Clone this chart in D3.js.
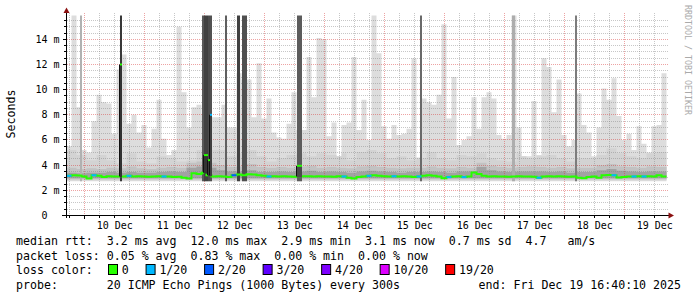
<!DOCTYPE html>
<html>
<head>
<meta charset="utf-8">
<script src="https://cdn.jsdelivr.net/npm/d3@7"></script>
<style>
body { margin: 0; background: #fff; }
text { font-family: "DejaVu Sans Mono", monospace; white-space: pre; }
</style>
</head>
<body>
<script>
// time range of the graph (10 days up to the end stamp)
const endTime = Date.UTC(2025, 11, 19, 16, 40, 10)
const startTime = endTime - 10 * 864e5
const binHours = 2   // smokeMax, median, lossCount
const tierHours = 4  // smokeUpper, smokeCore, smokeDense

// highest ping per 2h bin (ms)
const smokeMax = [
	5.5, 15.9, 8.6, 5.2, 5.0, 7.5, 9.6, 9.0, 8.9, 6.5,
	11.6, 12.8, 7.3, 8.0, 6.6, 7.2, 5.4, 6.9, 9.2, 6.1,
	4.8, 5.2, 15.0, 9.8, 7.0, 8.6, 8.8, 8.0, 8.0, 7.8,
	7.8, 8.8, 7.0, 7.0, 11.3, 10.8, 10.8, 7.8, 12.1, 7.7,
	9.3, 6.6, 6.2, 6.1, 7.3, 9.8, 6.8, 6.8, 12.6, 9.4,
	14.1, 14.0, 6.3, 7.4, 4.7, 7.2, 7.4, 12.6, 6.8, 9.2,
	6.0, 15.9, 12.9, 7.1, 6.1, 7.2, 6.4, 6.5, 6.9, 12.5,
	4.6, 9.3, 9.0, 8.8, 9.6, 15.2, 7.7, 11.0, 5.6, 6.0,
	6.3, 9.4, 6.9, 9.4, 9.8, 9.3, 6.4, 6.1, 6.4, 15.9,
	7.0, 4.7, 4.7, 9.1, 4.8, 12.5, 11.8, 8.2, 10.8, 6.4,
	5.5, 6.0, 9.7, 7.2, 6.6, 4.7, 7.0, 10.1, 9.2, 10.9,
	7.9, 6.0, 6.5, 5.2, 7.1, 5.7, 5.0, 7.1, 7.2, 11.3
]

// upper smoke bands per 4h bin (ms)
const smokeUpper = [
	5.2, 4.8, 4.4, 4.8, 4.4, 4.15, 4.95, 4.3, 4.15, 4.7,
	4.55, 4.3, 4.4, 5.2, 5.2, 5.2, 4.7, 4.95, 5.2, 4.7,
	4.3, 4.55, 4.8, 4.95, 4.7, 4.95, 4.8, 4.95, 4.4, 5.05,
	5.2, 4.95, 4.55, 4.7, 4.4, 4.55, 5.05, 4.55, 4.4, 4.8,
	4.7, 4.95, 4.55, 4.4, 4.3, 4.95, 4.55, 4.7, 4.8, 4.55,
	4.3, 4.55, 4.55, 4.8, 5.35, 4.95, 4.7, 4.55, 4.95, 5.05
]
const smokeCore = [
	3.8, 3.7, 3.75, 3.7, 3.8, 3.75, 3.9, 3.75, 3.7, 3.8,
	3.85, 3.8, 4.2, 4.3, 4.2, 4.0, 3.85, 3.9, 4.1, 3.85,
	3.8, 3.85, 3.8, 3.9, 3.95, 3.8, 3.85, 3.8, 3.75, 3.9,
	3.95, 3.85, 3.8, 3.75, 3.8, 3.8, 3.9, 3.8, 3.75, 3.85,
	3.8, 4.2, 3.95, 3.85, 3.8, 3.85, 3.9, 3.85, 3.8, 3.85,
	3.75, 3.8, 3.8, 4.0, 4.1, 3.9, 3.85, 3.8, 3.9, 3.85
]
const smokeDense = [
	3.4, 3.35, 3.4, 3.4, 3.45, 3.4, 3.45, 3.4, 3.4, 3.45,
	3.5, 3.45, 3.8, 3.9, 3.8, 3.6, 3.5, 3.5, 3.6, 3.45,
	3.45, 3.5, 3.45, 3.5, 3.55, 3.45, 3.5, 3.45, 3.4, 3.5,
	3.55, 3.5, 3.45, 3.4, 3.45, 3.45, 3.5, 3.45, 3.4, 3.5,
	3.5, 3.85, 3.6, 3.5, 3.45, 3.5, 3.5, 3.5, 3.45, 3.5,
	3.4, 3.45, 3.45, 3.6, 3.7, 3.55, 3.5, 3.45, 3.5, 3.5
]
// lowest value of each smoke band, lightest first (ms)
const smokeFloor = [2.72, 2.8, 2.88, 2.97]

// median rtt per 2h bin (ms)
const median = [
	3.15, 3.2, 3.18, 3.1, 2.95, 3.2, 3.15, 3.05, 3.12, 3.1,
	3.1, 3.1, 3.15, 3.1, 3.12, 3.1, 3.08, 3.1, 3.12, 3.1,
	3.1, 3.05, 3.08, 3.0, 2.95, 3.35, 3.3, 3.4, 3.2, 3.1,
	3.12, 3.1, 3.05, 3.2, 3.25, 3.2, 3.28, 3.25, 3.2, 3.15,
	3.1, 3.12, 3.1, 3.12, 3.1, 3.08, 3.1, 3.12, 3.12, 3.1,
	3.12, 3.1, 3.1, 3.08, 3.12, 3.1, 3.0, 2.95, 3.05, 3.1,
	3.15, 3.2, 3.15, 3.12, 3.1, 3.12, 3.1, 3.12, 3.1, 3.05,
	3.1, 3.15, 3.2, 3.15, 3.1, 2.97, 3.05, 3.1, 3.12, 3.05,
	3.1, 3.42, 3.3, 3.15, 3.1, 3.12, 3.1, 3.1, 3.08, 3.1,
	3.12, 3.1, 3.1, 3.08, 3.0, 3.1, 3.12, 3.1, 3.12, 3.1,
	3.08, 3.1, 3.0, 2.97, 3.05, 3.1, 3.0, 3.2, 3.22, 3.2,
	3.02, 3.05, 3.1, 3.1, 3.12, 3.1, 3.12, 3.1, 3.2, 3.1
]
// lost pings out of 20 per 2h bin
const lossCount = [
	1, 0, 0, 0, 0, 1, 0, 0, 0, 0,
	0, 0, 1, 0, 0, 0, 0, 0, 0, 1,
	0, 0, 0, 0, 0, 0, 0, 0, 0, 0,
	0, 0, 0, 2, 0, 0, 0, 0, 0, 0,
	1, 0, 0, 0, 0, 0, 0, 0, 0, 0,
	0, 0, 0, 0, 0, 1, 0, 0, 0, 0,
	1, 0, 0, 0, 0, 1, 0, 0, 0, 0,
	1, 0, 0, 0, 0, 0, 1, 0, 0, 1,
	0, 0, 0, 0, 0, 0, 0, 0, 0, 0,
	0, 0, 0, 0, 1, 0, 0, 0, 0, 0,
	0, 0, 0, 0, 0, 0, 0, 0, 0, 1,
	0, 0, 0, 1, 0, 1, 0, 0, 0, 0
]

// short bursts where most pings went off the scale
const spikeStart = [
	"2025-12-09T22:04Z", "2025-12-10T14:04Z", "2025-12-11T22:52Z", "2025-12-11T23:40Z",
	"2025-12-12T01:16Z", "2025-12-12T02:04Z", "2025-12-12T08:04Z", "2025-12-12T12:52Z",
	"2025-12-12T14:52Z", "2025-12-13T12:52Z", "2025-12-15T14:04Z", "2025-12-17T02:52Z",
	"2025-12-18T04:04Z"
]
const spikeMinutes = [48, 48, 48, 96, 48, 48, 48, 72, 120, 120, 48, 72, 48]
const spikeDensity = [0.26, 0.97, 0.78, 0.92, 0.85, 0.82, 0.74, 0.92, 0.83, 0.76, 0.68, 0.28, 0.57]
const spikeMedian = [3.15, 12.0, 3.5, 4.8, 4.4, 8.0, 3.1, 3.25, 3.25, 3.95, 3.1, 3.1, 3.1]
const spikeLoss = [0, 0, 0, 0, 0, 1, 0, 0, 0, 0, 0, 0, 0]

// legend
const lossLevels = ["0", "1/20", "2/20", "3/20", "4/20", "10/20", "19/20"]
const lossSteps = [0, 1, 2, 3, 4, 10, 19]
const lossColors = ["#26ff00", "#00b8ff", "#0059ff", "#5e00ff", "#7e00ff", "#dd00ff", "#ff0000"]
const rttSummary = ["3.2 ms avg", "12.0 ms max", "2.9 ms min", "3.1 ms now", "0.7 ms sd", "4.7   am/s"]
const lossSummary = ["0.05 % avg", "0.83 % max", "0.00 % min", "0.00 % now"]
const probeText = "20 ICMP Echo Pings (1000 Bytes) every 300s"
const yTickValues = [0, 2, 4, 6, 8, 10, 12, 14]

const svg = d3.select("body").append("svg")
	.attr("width", 697)
	.attr("height", 297)

const x = d3.scaleUtc()
	.domain([startTime, endTime])
	.range([66.5, 666.5])
const y = d3.scaleLinear()
	.domain([0, 15.894])
	.range([215.5, 15.5])
const snap = v => Math.floor(v) + 0.5
const lossColor = n => {
	let i = 0
	lossSteps.forEach((s, k) => { if (n >= s) i = k })
	return lossColors[i]
}

// step data at 2h resolution
const binT = i => startTime + i * binHours * 36e5
const stepData = fn => {
	const pts = smokeMax.map((_, i) => ({ t: binT(i), v: fn(i) }))
	pts.push({ t: endTime, v: pts[pts.length - 1].v })
	return pts
}
const tierAt = (arr, i) => arr[Math.floor(i * binHours / tierHours)]

// smoke bands
const tiers = [
	{ fn: i => smokeMax[i], color: "#dddddd" },
	{ fn: i => Math.min(tierAt(smokeUpper, i), smokeMax[i]), color: "#d3d3d3" },
	{ fn: i => Math.min(tierAt(smokeCore, i), smokeMax[i]), color: "#c2c2c2" },
	{ fn: i => tierAt(smokeDense, i), color: "#a2a2a2" }
]
tiers.forEach((tier, k) => {
	svg.append("path")
		.datum(stepData(tier.fn))
		.attr("fill", tier.color)
		.attr("d", d3.area()
			.curve(d3.curveStepAfter)
			.x(d => x(d.t))
			.y0(y(smokeFloor[k]))
			.y1(d => y(d.v)))
})

// grid
const grid = svg.append("g")
const minorY = d3.range(0.5, 15.9, 0.5).filter(v => v % 2 !== 0)
grid.selectAll(".hminor").data(minorY).enter().append("line")
	.attr("x1", 67).attr("x2", 668)
	.attr("y1", d => snap(y(d))).attr("y2", d => snap(y(d)))
	.attr("stroke", "rgba(130,130,130,0.45)")
	.attr("stroke-dasharray", "1,1")
grid.selectAll(".hmajor").data(yTickValues.slice(1)).enter().append("line")
	.attr("x1", 67).attr("x2", 668)
	.attr("y1", d => snap(y(d))).attr("y2", d => snap(y(d)))
	.attr("stroke", "rgba(215,50,50,0.45)")
	.attr("stroke-dasharray", "1,1")
const sixHours = d3.utcHour.every(6).range(startTime, endTime)
const minorX = sixHours.filter(d => d.getUTCHours() !== 0)
const majorX = sixHours.filter(d => d.getUTCHours() === 0)
grid.selectAll(".vminor").data(minorX).enter().append("line")
	.attr("x1", d => snap(x(d))).attr("x2", d => snap(x(d)))
	.attr("y1", 13).attr("y2", 215)
	.attr("stroke", "rgba(130,130,130,0.45)")
	.attr("stroke-dasharray", "1,1")
grid.selectAll(".vmajor").data(majorX).enter().append("line")
	.attr("x1", d => snap(x(d))).attr("x2", d => snap(x(d)))
	.attr("y1", 13).attr("y2", 215)
	.attr("stroke", "rgba(215,50,50,0.45)")
	.attr("stroke-dasharray", "1,1")

// spikes
const spikes = spikeStart.map((s, i) => {
	const t = Date.parse(s)
	return { t, t2: t + spikeMinutes[i] * 6e4, density: spikeDensity[i], median: spikeMedian[i], loss: spikeLoss[i] }
})
const shade = d3.interpolateRgb("#dddddd", "#333333")
svg.selectAll(".spike").data(spikes).enter().append("rect")
	.attr("x", d => x(d.t))
	.attr("width", d => x(d.t2) - x(d.t))
	.attr("y", y(15.894))
	.attr("height", y(smokeFloor[0]) - y(15.894))
	.attr("fill", d => shade(d.density))

// median line
const medianData = stepData(i => median[i])
svg.append("path")
	.datum(medianData)
	.attr("fill", "none")
	.attr("stroke", lossColors[0])
	.attr("stroke-width", 2)
	.attr("d", d3.line().curve(d3.curveStepAfter).x(d => x(d.t)).y(d => y(d.v)))
svg.selectAll(".lossSeg").data(median.map((v, i) => ({ i, v })).filter(d => lossCount[d.i] > 0))
	.enter().append("line")
	.attr("x1", d => x(binT(d.i))).attr("x2", d => x(binT(d.i + 1)))
	.attr("y1", d => y(d.v)).attr("y2", d => y(d.v))
	.attr("stroke", d => lossColor(lossCount[d.i]))
	.attr("stroke-width", 2)

// medians inside the spikes that left the base line
const bigSpikes = spikes.filter(d => {
	const i = Math.floor((d.t - startTime) / (binHours * 36e5))
	d.base = median[i]
	return d.median - d.base > 0.25
})
svg.selectAll(".spikeCut").data(bigSpikes).enter().append("rect")
	.attr("x", d => x(d.t))
	.attr("width", d => x(d.t2) - x(d.t))
	.attr("y", d => y(d.median))
	.attr("height", d => y(d.base) + 1 - y(d.median))
	.attr("fill", d => shade(Math.min(1, d.density + 0.1)))
svg.selectAll(".spikeStem").data(bigSpikes).enter().append("line")
	.attr("x1", d => snap(x(d.t))).attr("x2", d => snap(x(d.t)))
	.attr("y1", d => y(d.base)).attr("y2", d => y(d.median))
	.attr("stroke", "#111")
	.attr("stroke-width", 1)
svg.selectAll(".spikeMed").data(bigSpikes).enter().append("line")
	.attr("x1", d => x(d.t)).attr("x2", d => x(d.t2))
	.attr("y1", d => y(d.median)).attr("y2", d => y(d.median))
	.attr("stroke", d => lossColor(d.loss))
	.attr("stroke-width", 2)

// axes
const axis = svg.append("g")
axis.append("line").attr("x1", 62).attr("x2", 670).attr("y1", 215.5).attr("y2", 215.5).attr("stroke", "#000")
axis.append("line").attr("x1", 66.5).attr("x2", 66.5).attr("y1", 218).attr("y2", 12).attr("stroke", "#000")
axis.append("path").attr("d", "M668.5,212.5L668.5,218.5L674,215.5Z").attr("fill", "#8b1010")
axis.append("path").attr("d", "M63.5,13L69.5,13L66.5,7.5Z").attr("fill", "#8b1010")
axis.selectAll(".yt").data(d3.range(0.5, 15.9, 0.5)).enter().append("line")
	.attr("x1", d => d % 2 === 0 ? 63 : 64).attr("x2", 66)
	.attr("y1", d => snap(y(d))).attr("y2", d => snap(y(d)))
	.attr("stroke", "#000")
axis.selectAll(".xt").data(sixHours).enter().append("line")
	.attr("x1", d => snap(x(d))).attr("x2", d => snap(x(d)))
	.attr("y1", 216).attr("y2", d => d.getUTCHours() === 0 ? 219 : 218)
	.attr("stroke", "#000")

axis.selectAll(".ylab").data(yTickValues).enter().append("text")
	.attr("x", 59.5)
	.attr("y", d => y(d) + 3.5)
	.attr("text-anchor", "end")
	.attr("font-size", "10px")
	.attr("fill", "#000")
	.text(d => d === 0 ? "0  " : d + " m")

const noons = d3.utcHour.every(12).range(startTime, endTime).filter(d => d.getUTCHours() === 12)
axis.selectAll(".xlab").data(noons).enter().append("text")
	.attr("x", d => x(d))
	.attr("y", 228.5)
	.attr("text-anchor", "middle")
	.attr("font-size", "10px")
	.attr("fill", "#000")
	.text(d3.utcFormat("%d %b"))

svg.append("text")
	.attr("transform", "translate(15,114) rotate(-90)")
	.attr("text-anchor", "middle")
	.attr("font-size", "11.6px")
	.attr("fill", "#000")
	.text("Seconds")

svg.append("text")
	.attr("transform", "translate(685,5) rotate(90)")
	.attr("font-size", "8.3px")
	.attr("fill", "#aaaaaa")
	.text("RRDTOOL / TOBI OETIKER")

// legend
const legend = svg.append("g")
	.attr("font-size", "11.6px")
	.attr("fill", "#000")
legend.append("text").attr("x", 16).attr("y", 245).text("median rtt:  " + rttSummary.join("  "))
legend.append("text").attr("x", 16).attr("y", 259.5).text("packet loss: " + lossSummary.join("  "))
legend.append("text").attr("x", 16).attr("y", 274).text("loss color:")
legend.append("text").attr("x", 16).attr("y", 288.5).text("probe:       " + probeText)
legend.append("text").attr("x", 681).attr("y", 288.5).attr("text-anchor", "end")
	.text("end: " + d3.utcFormat("%a %b %d %H:%M:%S %Y")(endTime))

let boxX = 108
lossLevels.forEach((label, i) => {
	legend.append("rect")
		.attr("x", boxX + 0.5).attr("y", 264.5)
		.attr("width", 9).attr("height", 10)
		.attr("fill", lossColors[i])
		.attr("stroke", "#000")
	legend.append("text").attr("x", boxX + 13.8).attr("y", 274).text(label)
	boxX += 13.8 + label.length * 6.98 + 16.8
})
</script>
</body>
</html>
